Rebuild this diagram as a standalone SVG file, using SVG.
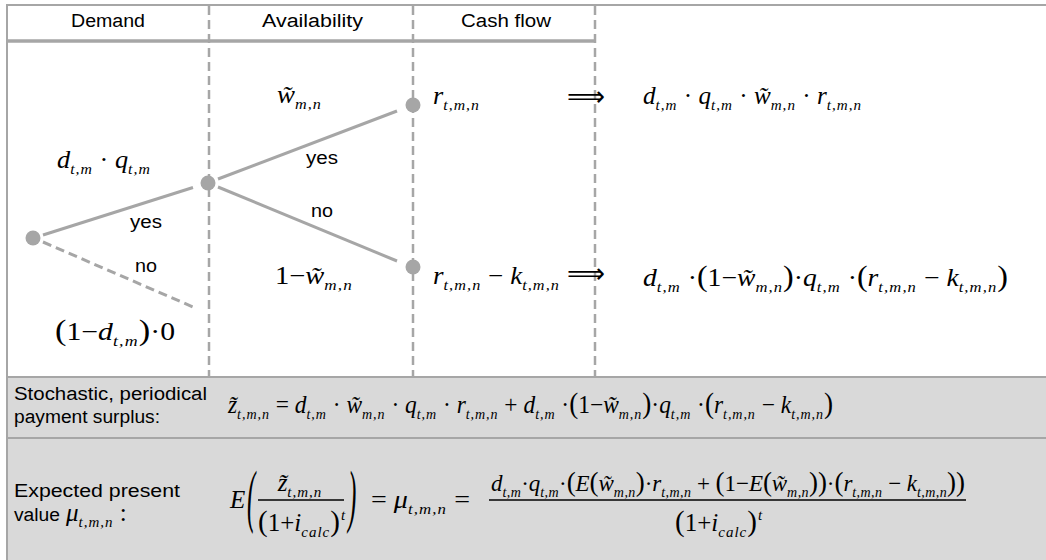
<svg xmlns="http://www.w3.org/2000/svg" width="1046" height="560" viewBox="0 0 1046 560">
<style>
.frame{stroke:#a6a6a6;stroke-width:2;fill:none}
.dash{stroke:#a6a6a6;stroke-width:2.5;stroke-dasharray:9 5;fill:none}
.br{stroke:#a6a6a6;stroke-width:3;fill:none}
.brd{stroke:#a6a6a6;stroke-width:3;stroke-dasharray:9 5;fill:none}
.dot{fill:#a6a6a6}
.band{fill:#d9d9d9}
.h{font-family:"Liberation Sans",Arial,sans-serif;font-size:18px;fill:#000}
.m{font-family:"Liberation Serif","Times New Roman",serif;font-size:25px;font-style:italic;fill:#000}
.m2{font-family:"Liberation Serif","Times New Roman",serif;font-size:23px;font-style:italic;fill:#000}
.n{font-style:normal}
.s{font-size:15px;font-style:italic;letter-spacing:1px}
.s2{font-size:14px;font-style:italic;letter-spacing:0.5px}
.p{font-style:normal;font-size:29px}
.p2{font-style:normal;font-size:27px}
.arr{font-family:"DejaVu Sans",sans-serif;font-size:28px;fill:#000}
.bar{stroke:#000;stroke-width:1.4}
</style>
<g id="bands">
<rect class="band" x="7" y="377" width="1039" height="61"/>
<rect class="band" x="7" y="438" width="1039" height="122"/>
</g>
<g id="frame">
<line class="frame" x1="7" y1="5" x2="1046" y2="5"/>
<line class="frame" x1="7" y1="4" x2="7" y2="560"/>
<line stroke="#a6a6a6" stroke-width="3.5" x1="7" y1="41" x2="595" y2="41"/>
<line class="frame" x1="7" y1="377" x2="1046" y2="377"/>
<line class="frame" x1="7" y1="438" x2="1046" y2="438"/>
</g>
<g id="columns">
<line class="dash" x1="209" y1="6" x2="209" y2="376"/>
<line class="dash" x1="413" y1="6" x2="413" y2="376"/>
<line class="dash" x1="595" y1="6" x2="595" y2="376"/>
<text class="h" x="71" y="27" textLength="74" lengthAdjust="spacingAndGlyphs">Demand</text>
<text class="h" x="262" y="27" textLength="101" lengthAdjust="spacingAndGlyphs">Availability</text>
<text class="h" x="461" y="27" textLength="90" lengthAdjust="spacingAndGlyphs">Cash flow</text>
</g>
<g id="connectors">
<line class="br" x1="43" y1="235" x2="193" y2="187.5"/>
<line class="brd" x1="43" y1="242" x2="193" y2="307"/>
<line class="br" x1="218" y1="179" x2="397" y2="111"/>
<line class="br" x1="218" y1="187" x2="397" y2="261"/>
</g>
<g id="node-root"><circle class="dot" cx="33" cy="238" r="7.5"/></g>
<g id="node-demand"><circle class="dot" cx="208" cy="183" r="7.5"/></g>
<g id="node-avail-yes"><circle class="dot" cx="413" cy="105" r="7.5"/></g>
<g id="node-avail-no"><circle class="dot" cx="413" cy="267" r="7.5"/></g>
<g id="labels">
<text class="h" x="130" y="228" textLength="32" lengthAdjust="spacingAndGlyphs">yes</text>
<text class="h" x="135" y="272" textLength="22" lengthAdjust="spacingAndGlyphs">no</text>
<text class="h" x="306" y="164" textLength="32" lengthAdjust="spacingAndGlyphs">yes</text>
<text class="h" x="311" y="217" textLength="22" lengthAdjust="spacingAndGlyphs">no</text>
<text class="m" x="57" y="168" textLength="94" lengthAdjust="spacingAndGlyphs">d<tspan class="s" dy="6">t,m</tspan><tspan class="n" dy="-6"> · </tspan>q<tspan class="s" dy="6">t,m</tspan></text>
<text class="m" x="55" y="340" textLength="120" lengthAdjust="spacingAndGlyphs"><tspan class="p">(</tspan><tspan class="n">1−</tspan>d<tspan class="s" dy="6">t,m</tspan><tspan class="p" dy="-6">)</tspan><tspan class="n">·0</tspan></text>
<text class="m" x="277" y="103" textLength="45" lengthAdjust="spacingAndGlyphs">w̃<tspan class="s" dy="6">m,n</tspan></text>
<text class="m" x="275" y="284" textLength="78" lengthAdjust="spacingAndGlyphs"><tspan class="n">1−</tspan>w̃<tspan class="s" dy="6">m,n</tspan></text>
<text class="m" x="433" y="104" textLength="47" lengthAdjust="spacingAndGlyphs">r<tspan class="s" dy="6">t,m,n</tspan></text>
<text class="m" x="433" y="284" textLength="127" lengthAdjust="spacingAndGlyphs">r<tspan class="s" dy="6">t,m,n</tspan><tspan class="n" dy="-6"> − </tspan>k<tspan class="s" dy="6">t,m,n</tspan></text>
<text class="arr" x="567" y="106" textLength="38" lengthAdjust="spacingAndGlyphs">⟹</text>
<text class="arr" x="567" y="283" textLength="38" lengthAdjust="spacingAndGlyphs">⟹</text>
<text class="m" x="643" y="104" textLength="219" lengthAdjust="spacingAndGlyphs">d<tspan class="s" dy="6">t,m</tspan><tspan class="n" dy="-6"> · </tspan>q<tspan class="s" dy="6">t,m</tspan><tspan class="n" dy="-6"> · </tspan>w̃<tspan class="s" dy="6">m,n</tspan><tspan class="n" dy="-6"> · </tspan>r<tspan class="s" dy="6">t,m,n</tspan></text>
<text class="m" x="643" y="286" textLength="365" lengthAdjust="spacingAndGlyphs">d<tspan class="s" dy="6">t,m</tspan><tspan class="n" dy="-6"> ·</tspan><tspan class="p">(</tspan><tspan class="n">1−</tspan>w̃<tspan class="s" dy="6">m,n</tspan><tspan class="p" dy="-6">)</tspan><tspan class="n">·</tspan>q<tspan class="s" dy="6">t,m</tspan><tspan class="n" dy="-6"> ·</tspan><tspan class="p">(</tspan>r<tspan class="s" dy="6">t,m,n</tspan><tspan class="n" dy="-6"> − </tspan>k<tspan class="s" dy="6">t,m,n</tspan><tspan class="p" dy="-6">)</tspan></text>
</g>
<g id="surplus">
<text class="h" x="14" y="400" textLength="193" lengthAdjust="spacingAndGlyphs">Stochastic, periodical</text>
<text class="h" x="14" y="423" textLength="146" lengthAdjust="spacingAndGlyphs">payment surplus:</text>
<text class="m" x="228" y="413" textLength="605" lengthAdjust="spacingAndGlyphs">z̃<tspan class="s" dy="6">t,m,n</tspan><tspan class="n" dy="-6"> = </tspan>d<tspan class="s" dy="6">t,m</tspan><tspan class="n" dy="-6"> · </tspan>w̃<tspan class="s" dy="6">m,n</tspan><tspan class="n" dy="-6"> · </tspan>q<tspan class="s" dy="6">t,m</tspan><tspan class="n" dy="-6"> · </tspan>r<tspan class="s" dy="6">t,m,n</tspan><tspan class="n" dy="-6"> + </tspan>d<tspan class="s" dy="6">t,m</tspan><tspan class="n" dy="-6"> ·</tspan><tspan class="p">(</tspan><tspan class="n">1−</tspan>w̃<tspan class="s" dy="6">m,n</tspan><tspan class="p" dy="-6">)</tspan><tspan class="n">·</tspan>q<tspan class="s" dy="6">t,m</tspan><tspan class="n" dy="-6"> ·</tspan><tspan class="p">(</tspan>r<tspan class="s" dy="6">t,m,n</tspan><tspan class="n" dy="-6"> − </tspan>k<tspan class="s" dy="6">t,m,n</tspan><tspan class="p" dy="-6">)</tspan></text>
</g>
<g id="expected">
<text class="h" x="14" y="497" textLength="166" lengthAdjust="spacingAndGlyphs">Expected present</text>
<text class="h" x="14" y="521" textLength="46" lengthAdjust="spacingAndGlyphs">value</text>
<text class="m" x="66" y="521">μ<tspan class="s" dy="6">t,m,n</tspan><tspan class="n" dy="-6"> :</tspan></text>
<text class="m" x="230" y="508">E</text>
<text class="m" font-style="normal" font-size="28" transform="translate(247,519) scale(1,2.8)">(</text>
<text class="m" x="300" y="491" text-anchor="middle">z̃<tspan class="s" dy="6">t,m,n</tspan></text>
<line class="bar" x1="258" y1="500" x2="344" y2="500"/>
<text class="m" x="258" y="531"><tspan class="p">(</tspan><tspan class="n">1+</tspan>i<tspan class="s" dy="6">calc</tspan><tspan class="p" dy="-6">)</tspan><tspan class="s" dx="1" dy="-11">t</tspan></text>
<text class="m" font-style="normal" font-size="28" transform="translate(348,519) scale(1,2.8)">)</text>
<text class="m" x="371" y="508" textLength="99" lengthAdjust="spacingAndGlyphs"><tspan class="n">= </tspan>μ<tspan class="s" dy="6">t,m,n</tspan><tspan class="n" dy="-6"> =</tspan></text>
<text class="m2" x="491" y="491" textLength="474" lengthAdjust="spacing">d<tspan class="s2" dy="6">t,m</tspan><tspan class="n" dy="-6">·</tspan>q<tspan class="s2" dy="6">t,m</tspan><tspan class="n" dy="-6">·</tspan><tspan class="p2">(</tspan>E<tspan class="p2">(</tspan>w̃<tspan class="s2" dy="6">m,n</tspan><tspan class="p2" dy="-6">)</tspan><tspan class="n">·</tspan>r<tspan class="s2" dy="6">t,m,n</tspan><tspan class="n" dy="-6"> + </tspan><tspan class="p2">(</tspan><tspan class="n">1−</tspan>E<tspan class="p2">(</tspan>w̃<tspan class="s2" dy="6">m,n</tspan><tspan class="p2" dy="-6">))</tspan><tspan class="n">·</tspan><tspan class="p2">(</tspan>r<tspan class="s2" dy="6">t,m,n</tspan><tspan class="n" dy="-6"> − </tspan>k<tspan class="s2" dy="6">t,m,n</tspan><tspan class="p2" dy="-6">))</tspan></text>
<line class="bar" x1="489" y1="500" x2="966" y2="500"/>
<text class="m" x="675" y="531"><tspan class="p">(</tspan><tspan class="n">1+</tspan>i<tspan class="s" dy="6">calc</tspan><tspan class="p" dy="-6">)</tspan><tspan class="s" dx="1" dy="-11">t</tspan></text>
</g>
</svg>
